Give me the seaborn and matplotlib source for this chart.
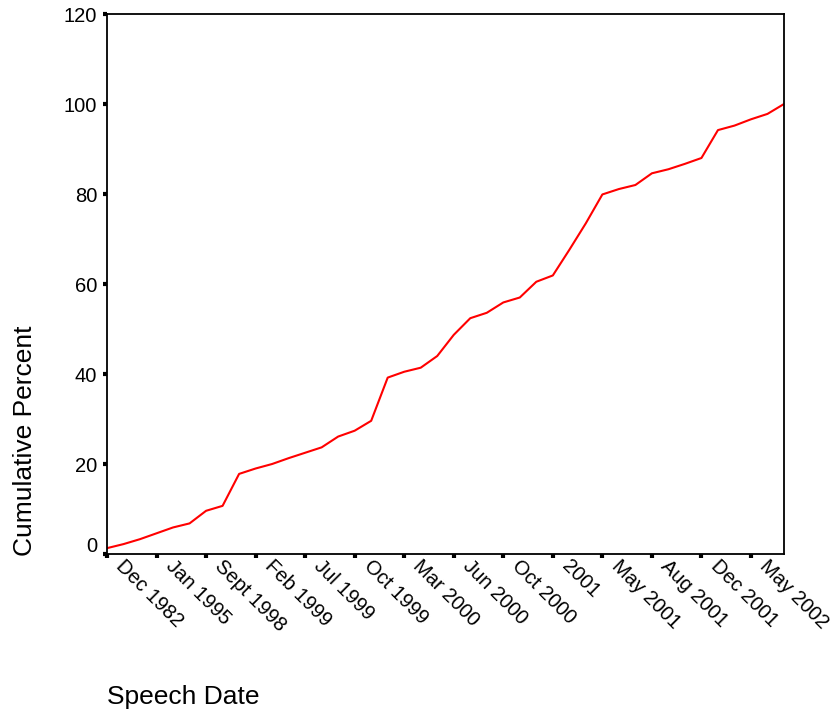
#!/usr/bin/env python3
"""Cumulative percent of speeches by speech date (SPSS-style line chart)."""

import numpy as np
import pandas as pd
import matplotlib
matplotlib.use("Agg")
import matplotlib.pyplot as plt
import matplotlib.transforms as mtransforms
import seaborn as sns

# cumulative percent, one value per speech date (42 dates, every third is labelled)
cum_percent = [1.3, 2.2, 3.3, 4.6, 5.9, 6.8, 9.6, 10.7, 17.8, 19.0,
               20.0, 21.3, 22.5, 23.7, 26.1, 27.4, 29.6, 39.2, 40.5, 41.4,
               44.0, 48.7, 52.4, 53.6, 55.9, 57.0, 60.5, 61.9, 67.6, 73.5,
               79.9, 81.1, 82.0, 84.6, 85.5, 86.7, 88.0, 94.2, 95.2, 96.6,
               97.8, 100.0]
tick_labels = ["Dec 1982", "Jan 1995", "Sept 1998", "Feb 1999", "Jul 1999",
               "Oct 1999", "Mar 2000", "Jun 2000", "Oct 2000", "2001",
               "May 2001", "Aug 2001", "Dec 2001", "May 2002"]
y_ticks = [0, 20, 40, 60, 80, 100, 120]


def main():
    sns.set_style("white")
    plt.rcParams["font.family"] = ["Liberation Sans", "DejaVu Sans"]

    df = pd.DataFrame({"date_idx": np.arange(len(cum_percent)),
                       "cum": cum_percent})

    fig = plt.figure(figsize=(8.38, 7.17), dpi=100)
    ax = fig.add_axes([107 / 838, 1 - 554 / 717, 677 / 838, 540 / 717])

    sns.lineplot(data=df, x="date_idx", y="cum", ax=ax, color="red",
                 linewidth=1.5)

    ax.set_xlim(0, len(cum_percent) - 1)
    ax.set_ylim(0, 120)
    ax.set_xticks(np.arange(0, len(cum_percent), 3))
    ax.set_xticklabels(tick_labels)
    ax.set_yticks(y_ticks)

    for side in ["left", "right", "top", "bottom"]:
        ax.spines[side].set_visible(True)
        ax.spines[side].set_color("black")
        ax.spines[side].set_linewidth(1.3)

    ax.tick_params(axis="both", direction="out", length=3, width=3,
                   color="black", labelsize=14.5, labelcolor="black",
                   bottom=True, left=True, top=False, right=False)
    ax.tick_params(axis="y", pad=4)
    ax.tick_params(axis="x", pad=0)

    shift = mtransforms.ScaledTranslation(0.12, -0.05, fig.dpi_scale_trans)
    for lab in ax.get_xticklabels():
        lab.set_rotation(-45)
        lab.set_rotation_mode("anchor")
        lab.set_ha("left")
        lab.set_va("center")
        lab.set_transform(lab.get_transform() + shift)

    # SPSS lifts the zero label a little off the axis corner
    up = mtransforms.ScaledTranslation(0, 0.09, fig.dpi_scale_trans)
    zero = ax.get_yticklabels()[0]
    zero.set_transform(zero.get_transform() + up)

    ax.set_xlabel("Speech Date", fontsize=19, color="black")
    ax.xaxis.set_label_coords(0.0, (554 - 697) / 540)
    ax.xaxis.label.set_ha("left")
    ax.xaxis.label.set_va("center")

    ax.set_ylabel("Cumulative Percent", fontsize=19, color="black")
    ax.yaxis.set_label_coords((25 - 107) / 677, -0.004)
    ax.yaxis.label.set_rotation_mode("anchor")
    ax.yaxis.label.set_ha("left")
    ax.yaxis.label.set_va("center")

    ax.grid(False)
    fig.savefig("out.png", dpi=100)
    plt.close(fig)


if __name__ == "__main__":
    main()
